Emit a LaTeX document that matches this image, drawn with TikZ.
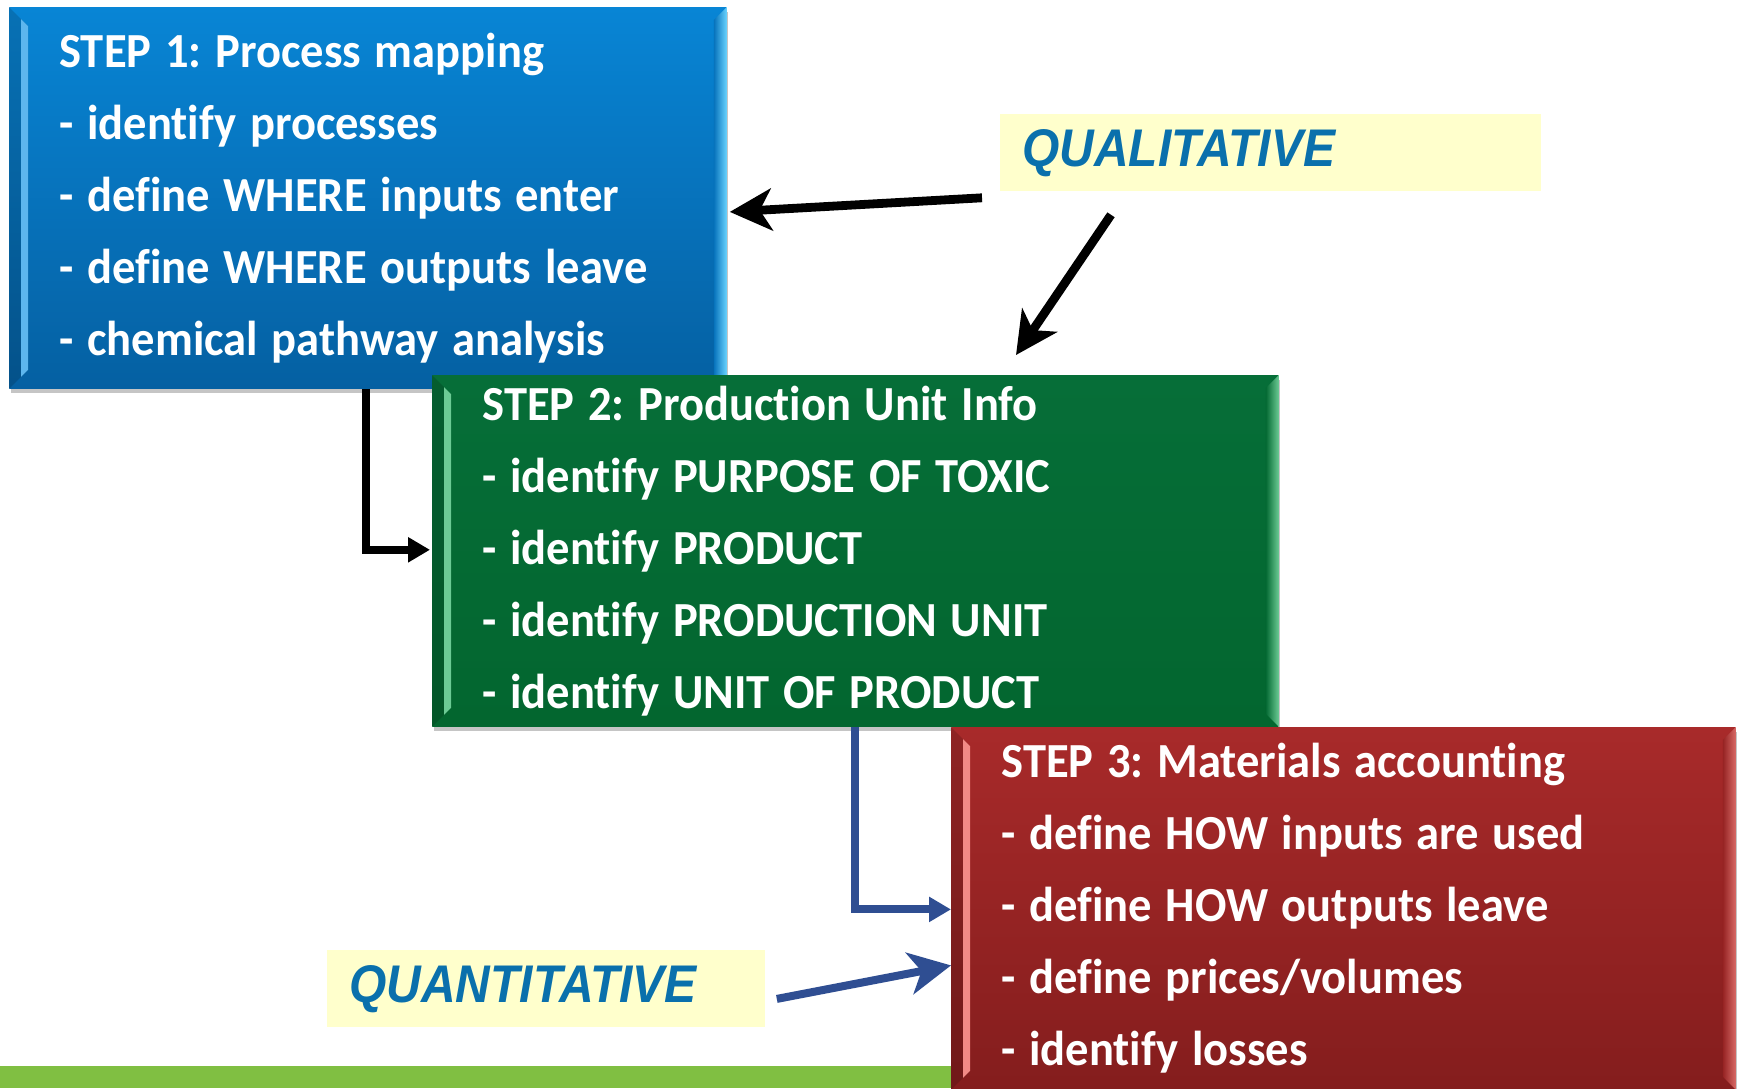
\documentclass[tikz,border=0pt]{standalone}
\usepackage{fontspec}
\setmainfont{Carlito}[Ligatures=NoCommon, FakeStretch=0.95]
\newfontfamily\labelfont[FakeStretch=0.905]{Liberation Sans}
\usetikzlibrary{arrows.meta,calc,shadows}
\definecolor{blueTop}{HTML}{0885D5}
\definecolor{blueBot}{HTML}{0560A2}
\definecolor{blueEdgeL}{HTML}{5DB6EE}
\definecolor{blueEdgeR}{HTML}{6AD4FF}
\definecolor{greenTop}{HTML}{066E38}
\definecolor{greenBot}{HTML}{03662F}
\definecolor{greenEdge}{HTML}{6CCB95}
\definecolor{redTop}{HTML}{A82A2A}
\definecolor{redBot}{HTML}{841D1D}
\definecolor{redEdgeL}{HTML}{F28A86}
\definecolor{redEdgeR}{HTML}{D86A66}
\definecolor{noteFill}{HTML}{FFFFCC}
\definecolor{noteText}{HTML}{0A70AC}
\definecolor{navyArrow}{HTML}{2F4E92}
\definecolor{barGreen}{HTML}{80BF42}
\newcommand\tightspace{\spaceskip=0.28em\relax}
\newcommand\bevelsides[5]{% node, top colour, bottom colour, left light, right light
  \shade[top color=#2!85!black, bottom color=#3!85!black]
    (#1.north west) -- ++(19,19) -- ($(#1.south west)+(19,-19)$) -- (#1.south west) -- cycle;
  \fill[#4]
    ($(#1.north west)+(12,12)$) -- ++(7,7) -- ($(#1.south west)+(19,-19)$) -- ++(-7,7) -- cycle;
  \shade[left color=#2!50!#3, right color=#5]
    (#1.north east) -- ++(-13,13) -- ($(#1.south east)+(-13,-13)$) -- (#1.south east) -- cycle;
}
\begin{document}
\frenchspacing
\begin{tikzpicture}[x=0.5pt,y=-0.5pt,
  stepbox/.style={anchor=north west, inner xsep=25pt, inner ysep=0pt, align=left,
    text=white, font=\fontsize{24.5pt}{36pt}\selectfont\bfseries,
    drop shadow={shadow xshift=1pt, shadow yshift=-2.5pt, opacity=0.45}},
  notebox/.style={fill=noteFill, anchor=north west, inner sep=0pt},
  notetext/.style={anchor=west, inner sep=0pt, text=noteText,
    font=\labelfont\fontsize{26.5pt}{30pt}\selectfont\bfseries\itshape},
  bigblack/.style={line width=4.4pt, black, -{Stealth[length=21pt, width=21pt, inset=6pt]}},
  smallblack/.style={line width=4pt, black, -{Triangle[length=11pt, width=12pt]}},
  smallnavy/.style={line width=4pt, navyArrow, -{Triangle[length=11pt, width=12pt]}},
  bignavy/.style={line width=4pt, navyArrow, -{Stealth[length=21pt, width=21pt, inset=6pt]}}
]
\useasboundingbox (0,0) rectangle (1738,1088);
\fill[white] (0,0) rectangle (1738,1088);
\fill[barGreen] (0,1066) rectangle (960,1088);

% yellow labels
\node[notebox, minimum width=270.5pt, minimum height=38.5pt] (qual) at (1000,114) {};
\node[notetext] (qualtxt) at ($(qual.west)+(22,0)$) {QUALITATIVE};
\node[notebox, minimum width=219pt, minimum height=38.5pt] (quant) at (327,950) {};
\node[notetext] (quanttxt) at ($(quant.west)+(22,0)$) {QUANTITATIVE};

% step 1
\node[stepbox, top color=blueTop, bottom color=blueBot, text width=308.5pt,
  minimum height=190.5pt] (s1) at (9,7)
  {\tightspace STEP 1: Process mapping\\- identify processes\\- define WHERE inputs enter\\- define WHERE outputs leave\\- chemical pathway analysis};
\bevelsides{s1}{blueTop}{blueBot}{blueEdgeL}{blueEdgeR}

% connector step1 -> step2 (drawn before step 2 box)
\draw[smallblack] ($(s1.south west)+(357,0)$) |- ($(s1.south west)+(421,161)$) coordinate (e12);

% step 2
\node[stepbox, top color=greenTop, bottom color=greenBot, text width=373pt,
  minimum height=175.5pt] (s2) at (432,375)
  {\tightspace STEP 2: Production Unit Info\\- identify PURPOSE OF TOXIC\\- identify PRODUCT\\- identify PRODUCTION UNIT\\- identify UNIT OF PRODUCT};
\bevelsides{s2}{greenTop}{greenBot}{greenEdge}{greenEdge}

% step 3
\node[stepbox, top color=redTop, bottom color=redBot, text width=342pt,
  minimum height=181pt] (s3) at (951,727)
  {\tightspace STEP 3: Materials accounting\\- define HOW inputs are used\\- define HOW outputs leave\\- define prices/volumes\\- identify losses};
\bevelsides{s3}{redTop}{redBot}{redEdgeL}{redEdgeR}

% connectors
\draw[smallnavy] ($(s2.south west)+(423,0)$) |- ($(s3.west)+(0,1)$);
\draw[bigblack] ($(qual.south west)+(-18,6)$) -- ($(s1.east)+(3,14)$);
\draw[bigblack] ($(qual.south west)+(111,23)$) -- ($(s2.north west)+(584,-20)$);
\draw[bignavy] ($(quant.east)+(11,10)$) -- ($(s3.west)+(0,57)$);
\end{tikzpicture}
\end{document}
